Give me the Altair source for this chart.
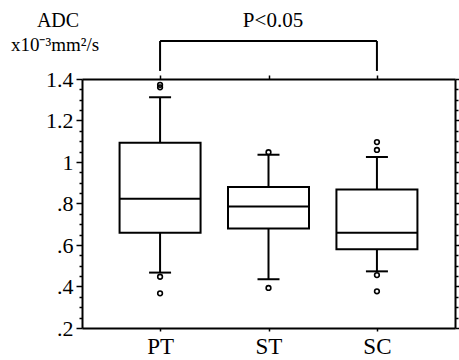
import altair as alt
import pandas as pd

# ---- data ----
groups = ["PT", "ST", "SC"]
q1 = [0.659, 0.679, 0.579]
median = [0.823, 0.786, 0.659]
q3 = [1.093, 0.880, 0.867]
whisker_low = [0.467, 0.435, 0.473]
whisker_high = [1.312, 1.035, 1.024]

outlier_group = ["PT", "PT", "PT", "PT", "ST", "ST", "SC", "SC", "SC", "SC"]
outlier_value = [1.372, 1.360, 0.447, 0.367, 1.047, 0.393, 1.096, 1.058, 0.455, 0.377]

bracket_from = ["PT"]
bracket_to = ["SC"]
bracket_top = [1.583]
bracket_leg_bottom = [1.439]
bracket_label = ["P<0.05"]

all_ticks = [0.2, 0.25, 0.3, 0.35, 0.4, 0.45, 0.5, 0.55, 0.6, 0.65, 0.7, 0.75,
             0.8, 0.85, 0.9, 0.95, 1.0, 1.05, 1.1, 1.15, 1.2, 1.25, 1.3, 1.35, 1.4]

stats = pd.DataFrame({"g": groups, "q1": q1, "med": median, "q3": q3,
                      "lo": whisker_low, "hi": whisker_high})
outl = pd.DataFrame({"g": outlier_group, "v": outlier_value})
br = pd.DataFrame({"a": bracket_from, "b": bracket_to, "top": bracket_top,
                   "bot": bracket_leg_bottom, "lab": bracket_label})
legs = pd.DataFrame({"g": bracket_from + bracket_to,
                     "top": bracket_top * 2, "bot": bracket_leg_bottom * 2})

FONT = "Liberation Serif"
W, H = 373, 249
ydom = alt.Scale(domain=[0.2, 1.4], nice=False, zero=False)
xsc = alt.Scale(domain=groups, type="point", padding=0.72)

is_major = "abs(datum.value*5 - round(datum.value*5)) < 0.001"

left_axis = alt.Axis(values=all_ticks, title=None, grid=False,
                     labelExpr=f"{is_major} ? replace(format(datum.value, '~g'), '0.', '.') : ''",
                     labelFont=FONT, labelFontSize=22, labelColor="black",
                     labelPadding=3, labelBaseline="middle",
                     tickColor="black", tickWidth=1.5,
                     tickSize={"condition": {"test": is_major, "value": 6}, "value": 3},
                     domainColor="black", domainWidth=2, labelOverlap=False, orient="left")
right_axis = alt.Axis(values=all_ticks, title=None, grid=False, labels=False,
                      tickColor="black", tickWidth=1.5,
                      tickSize={"condition": {"test": is_major, "value": 6}, "value": 3},
                      domainColor="black", domainWidth=2, orient="right")
bottom_axis = alt.Axis(title=None, grid=False, labelAngle=0, labelFont=FONT,
                       labelFontSize=23, labelColor="black", labelPadding=4,
                       tickColor="black", tickWidth=1.5, tickSize=3,
                       domainColor="black", domainWidth=2, orient="bottom")
top_axis = alt.Axis(title=None, grid=False, labels=False,
                    tickColor="black", tickWidth=1.5, tickSize=4,
                    domainColor="black", domainWidth=2, orient="top")


def X(field, axis=None):
    return alt.X(field, scale=xsc, sort=groups, axis=axis)


def Y(field, axis=None):
    return alt.Y(field, scale=ydom, axis=axis)


base = alt.Chart(stats)

whiskers = base.mark_rule(color="black", strokeWidth=2).encode(
    x=X("g:N", bottom_axis), y=Y("lo:Q", left_axis), y2="hi:Q",
)
boxes = base.mark_bar(size=81, fill="white", stroke="black", strokeWidth=2).encode(
    x=X("g:N"), y=Y("q1:Q"), y2="q3:Q",
)
medians = base.mark_tick(size=81, thickness=2, color="black", opacity=1).encode(
    x=X("g:N", top_axis), y=Y("med:Q", right_axis),
)
caps_hi = base.mark_tick(size=22, thickness=2, color="black", opacity=1).encode(
    x=X("g:N"), y=Y("hi:Q"),
)
caps_lo = base.mark_tick(size=22, thickness=2, color="black", opacity=1).encode(
    x=X("g:N"), y=Y("lo:Q"),
)
points = alt.Chart(outl).mark_point(shape="circle", size=22, filled=False,
                                    stroke="black", strokeWidth=1.6, opacity=1).encode(
    x=X("g:N"), y=Y("v:Q"),
)
br_h = alt.Chart(br).mark_rule(color="black", strokeWidth=2).encode(
    x=X("a:N"), x2="b:N", y=Y("top:Q"),
)
br_v = alt.Chart(legs).mark_rule(color="black", strokeWidth=2).encode(
    x=X("g:N"), y=Y("bot:Q"), y2="top:Q",
)
p_text = alt.Chart(br).mark_text(font=FONT, fontSize=21, color="black",
                                 align="center", baseline="middle").encode(
    text="lab:N", x=alt.value(191), y=alt.value(-58),
)
t1 = alt.Chart(pd.DataFrame({"t": ["ADC"]})).mark_text(
    font=FONT, fontSize=20, color="black", align="center", baseline="middle").encode(
    text="t:N", x=alt.value(-24), y=alt.value(-58))
t2 = alt.Chart(pd.DataFrame({"t": ["x10⁻³mm²/s"]})).mark_text(
    font=FONT, fontSize=19, color="black", align="center", baseline="middle").encode(
    text="t:N", x=alt.value(-27), y=alt.value(-34))

chart = alt.layer(whiskers, boxes, medians, caps_hi, caps_lo, points,
                  br_h, br_v, p_text, t1, t2).resolve_axis(
    x="independent", y="independent"
).properties(
    width=W, height=H,
    autosize=alt.AutoSizeParams(type="none"),
    padding={"left": 82, "top": 79, "right": 4, "bottom": 32},
).configure_view(stroke=None).configure(background="white")

chart.save("out.html", embed_options={"renderer": "svg", "actions": False})
